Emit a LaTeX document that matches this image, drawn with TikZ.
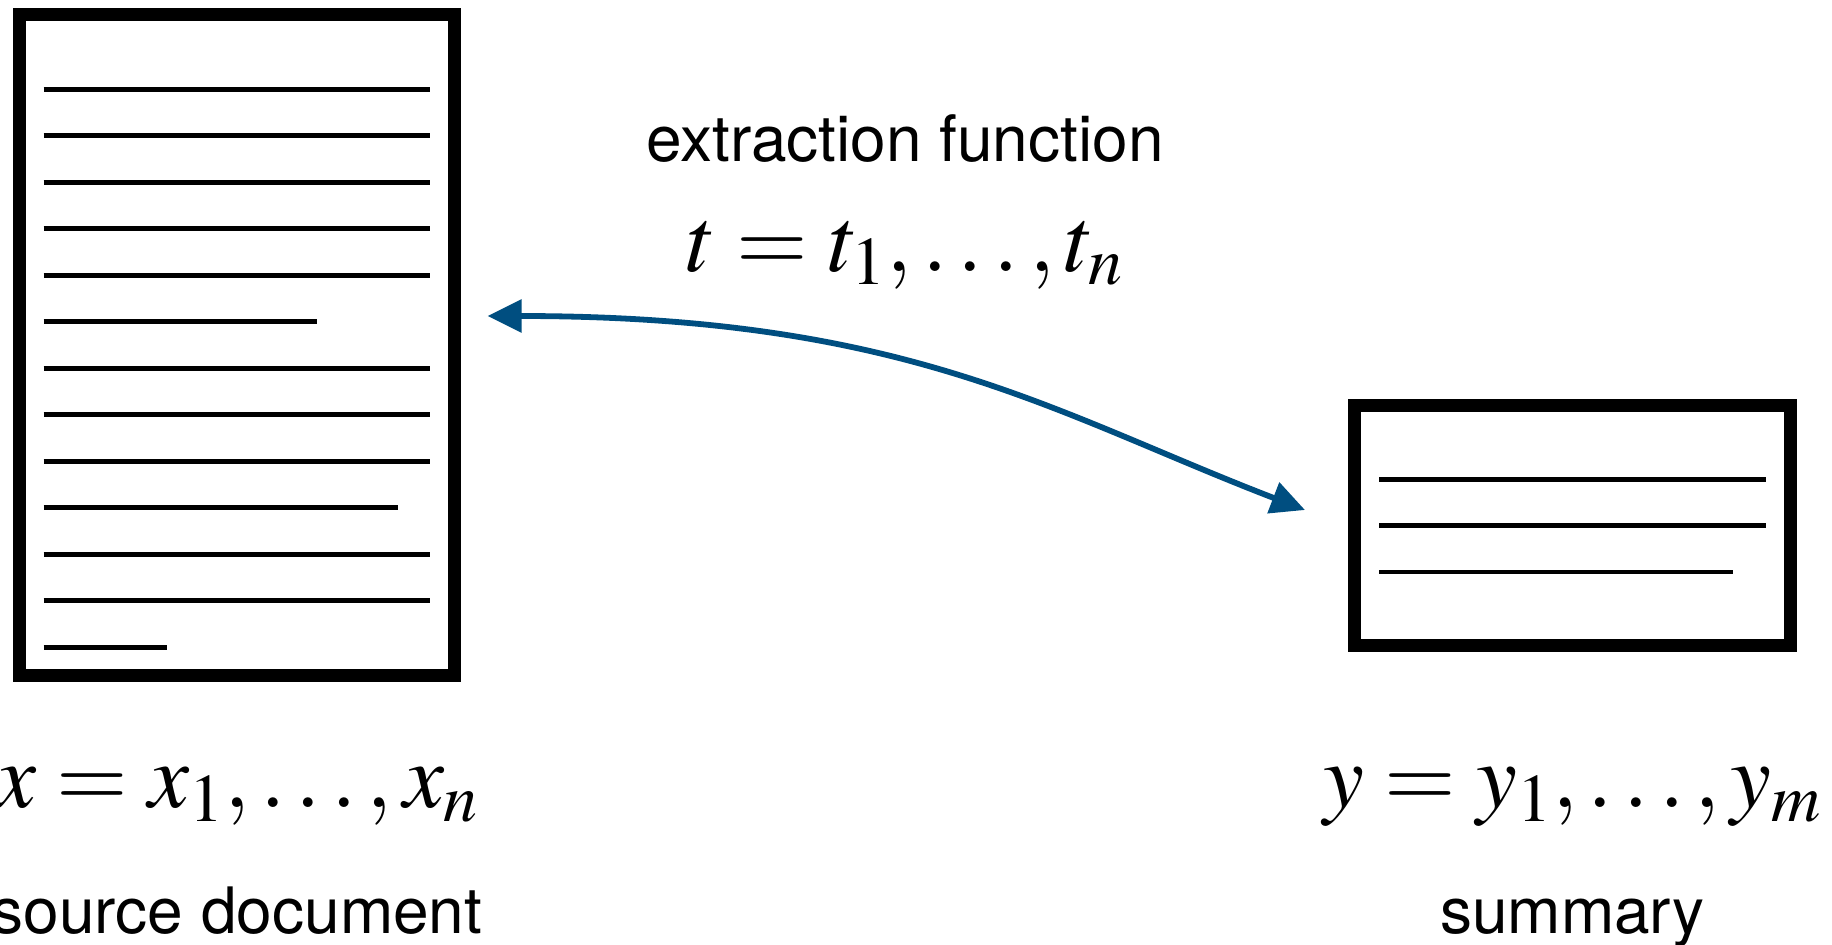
\documentclass[tikz,border=0pt]{standalone}
\usepackage{mathptmx}
\usepackage[no-math]{fontspec}
\setmainfont{TeX Gyre Heros}
\usetikzlibrary{positioning,arrows.meta,calc}
\definecolor{figblue}{RGB}{0,78,128}
\tikzset{
  fig/.style={font=\fontsize{32}{38}\selectfont},
  sheet/.style={draw,line width=6.65pt,outer sep=0pt,inner sep=0pt},
  txtline/.style={line width=2.3pt},
  lnb/.style={{Triangle[length=17pt,width=16pt]}-{Triangle[length=17pt,width=16pt]},
              line width=2.9pt,draw=figblue},
}

\begin{document}
\begin{tikzpicture}[fig,x=0.5pt,y=-0.5pt,
  lbl/.style={inner sep=0pt,anchor=base},
  mlbl/.style={lbl,font=\fontsize{46}{50}\selectfont}]
\useasboundingbox (0,0) rectangle (1832,944);

\node[sheet,minimum width=217.5pt,minimum height=330.5pt] (doc) at (237,345.3) {};
\node[sheet,minimum width=217.7pt,minimum height=120pt] (summ) at (1572.5,525.8) {};

\foreach \i/\len in {0/386,1/386,2/386,3/386,4/386,5/273,6/386,7/386,8/386,9/354,10/386,11/386,12/123}
  \draw[txtline] ([shift={(24.2,74.4+46.5*\i)}]doc.north west) -- ++(\len,0);
\foreach \i/\len in {0/387,1/387,2/354}
  \draw[txtline] ([shift={(24.5,73.5+46.3*\i)}]summ.north west) -- ++(\len,0);

\draw[lnb] ([shift={(33.1,-29.3)}]doc.east) .. controls +(420,0) and +(-252,-97) .. ([shift={(-49.8,-15.8)}]summ.west);

\node[lbl] (title) at (905,161) {extraction function};
\node[mlbl] (tseq) at ([shift={(0,110)}]title.base) {$t = t_1, \ldots, t_n$};

\node[mlbl] (xseq) at ([shift={(0,132)}]doc.south) {$x = x_1, \ldots, x_n$};
\node[lbl] (src) at ([shift={(0,126)}]xseq.base) {source document};
\node[mlbl] (yseq) at ([shift={(0,162)}]summ.south) {$y = y_1, \ldots, y_m$};
\node[lbl] (sumlbl) at ([shift={(0,126)}]yseq.base) {summary};
\end{tikzpicture}
\end{document}
